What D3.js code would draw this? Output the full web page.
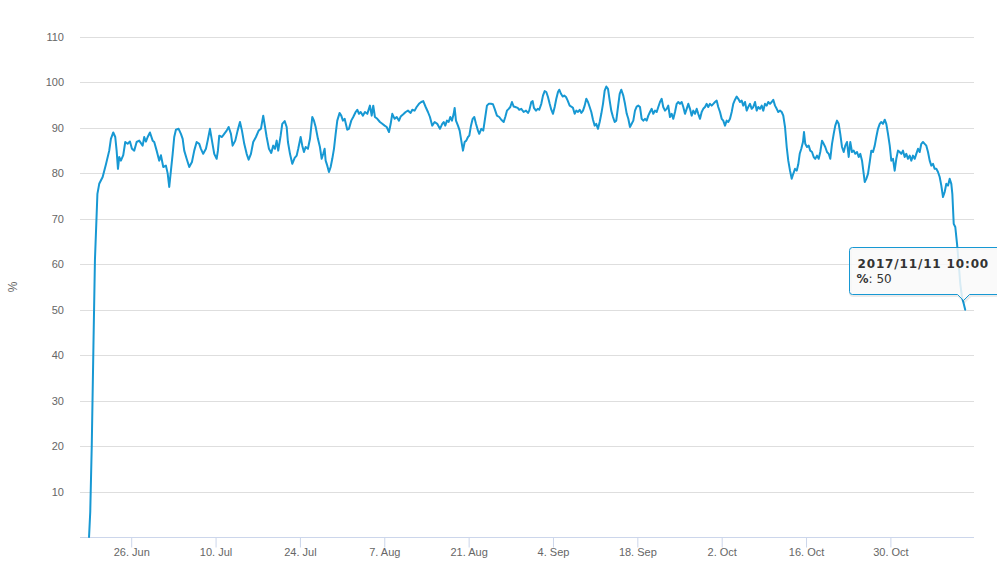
<!DOCTYPE html>
<html>
<head>
<meta charset="utf-8">
<script src="https://cdn.jsdelivr.net/npm/d3@7/dist/d3.min.js"></script>
<style>
  html, body { margin: 0; padding: 0; background: #ffffff; }
  svg { display: block; }
</style>
</head>
<body>
<svg id="chart" width="997" height="565"></svg>
<script>
// ---------------- DATA ----------------
// Series start time (UTC) and sample times as day offsets from it
const seriesStart = "2017-06-19T00:00:00Z";
const dayOffsets = [
  0.00, 0.20, 0.45, 0.73, 0.98, 1.39, 1.69, 2.26, 2.81, 3.35, 3.63, 4.02, 4.35, 4.58, 4.80, 5.01, 5.29, 5.68, 6.01, 6.41,
  6.79, 7.12, 7.50, 7.90, 8.33, 8.90, 9.16, 9.44, 9.73, 10.11, 10.56, 10.82, 11.22, 11.65, 11.93, 12.32, 12.76, 13.05, 13.31, 13.59,
  13.88, 14.14, 14.42, 14.87, 15.25, 15.54, 15.80, 16.20, 16.63, 17.08, 17.46, 17.86, 18.29, 18.57, 18.95, 19.40, 19.69, 20.07, 20.40, 20.78,
  21.18, 21.39, 21.61, 22.06, 22.44, 22.84, 23.17, 23.55, 23.83, 24.27, 24.66, 25.05, 25.38, 25.76, 26.16, 26.49, 26.87, 27.25, 27.70, 28.15,
  28.53, 28.91, 29.48, 29.86, 30.24, 30.57, 30.86, 31.14, 31.40, 31.80, 32.07, 32.47, 32.80, 33.01, 33.35, 33.73, 34.13, 34.46, 34.72, 35.12,
  35.39, 35.67, 35.95, 36.33, 36.67, 37.05, 37.33, 37.61, 37.99, 38.32, 38.61, 38.87, 39.10, 39.27, 39.54, 39.82, 40.10, 40.37, 40.65, 40.93,
  41.20, 41.59, 41.86, 42.14, 42.42, 42.86, 43.14, 43.52, 43.85, 44.25, 44.52, 44.80, 45.08, 45.46, 45.79, 46.18, 46.62, 46.91, 47.17, 47.45,
  47.84, 48.28, 48.67, 49.06, 49.40, 49.78, 50.06, 50.33, 50.72, 51.06, 51.44, 51.72, 52.15, 52.55, 52.93, 53.38, 53.65, 54.04, 54.37, 54.76,
  55.14, 55.47, 55.87, 56.25, 56.58, 56.96, 57.36, 57.79, 58.24, 58.62, 58.86, 59.12, 59.40, 59.69, 59.95, 60.23, 60.52, 60.68, 60.90, 61.23,
  61.51, 61.78, 62.06, 62.34, 62.61, 62.89, 63.11, 63.39, 63.67, 63.94, 64.22, 64.55, 64.76, 65.10, 65.43, 65.76, 66.04, 66.33, 66.71, 67.04,
  67.32, 67.70, 68.08, 68.42, 68.82, 69.08, 69.36, 69.65, 69.91, 70.19, 70.48, 70.74, 71.14, 71.40, 71.74, 72.13, 72.52, 72.85, 73.06, 73.40,
  73.63, 73.84, 74.18, 74.46, 74.72, 75.06, 75.34, 75.62, 75.89, 76.17, 76.45, 76.72, 77.00, 77.28, 77.55, 77.83, 78.04, 78.33, 78.61, 78.87,
  79.16, 79.44, 79.77, 80.03, 80.32, 80.60, 80.86, 81.15, 81.43, 81.70, 81.98, 82.26, 82.53, 82.81, 83.09, 83.36, 83.64, 83.92, 84.18, 84.47,
  84.75, 85.02, 85.30, 85.58, 85.85, 86.13, 86.41, 86.67, 86.96, 87.24, 87.50, 87.79, 88.07, 88.34, 88.67, 88.95, 89.24, 89.50, 89.78, 90.06,
  90.33, 90.61, 90.89, 91.15, 91.44, 91.72, 91.99, 92.27, 92.55, 92.82, 93.10, 93.38, 93.65, 93.93, 94.21, 94.48, 94.76, 95.04, 95.30, 95.59,
  95.87, 96.13, 96.42, 96.70, 96.97, 97.25, 97.53, 97.80, 98.08, 98.36, 98.63, 98.91, 99.19, 99.46, 99.74, 100.02, 100.29, 100.57, 100.85, 101.11,
  101.40, 101.68, 101.94, 102.23, 102.51, 102.77, 103.06, 103.34, 103.61, 103.89, 104.17, 104.43, 104.72, 105.00, 105.26, 105.55, 105.83, 106.09, 106.38, 106.66,
  106.92, 107.21, 107.49, 107.75, 108.04, 108.32, 108.58, 108.87, 109.15, 109.41, 109.70, 109.98, 110.24, 110.53, 110.81, 111.07, 111.36, 111.64, 111.90, 112.19,
  112.47, 112.73, 113.02, 113.30, 113.56, 113.85, 114.13, 114.39, 114.68, 114.96, 115.22, 115.51, 115.79, 116.05, 116.34, 116.62, 116.88, 117.17, 117.45, 117.71,
  117.95, 118.21, 118.49, 118.66, 118.87, 119.16, 119.44, 119.70, 119.99, 120.27, 120.53, 120.82, 121.10, 121.36, 121.65, 121.93, 122.19, 122.48, 122.76, 123.02,
  123.31, 123.59, 123.85, 124.14, 124.42, 124.68, 124.97, 125.25, 125.51, 125.80, 126.08, 126.34, 126.63, 126.91, 127.17, 127.46, 127.74, 128.00, 128.29, 128.57,
  128.74, 129.00, 129.28, 129.57, 129.83, 130.11, 130.40, 130.66, 130.94, 131.23, 131.49, 131.77, 132.06, 132.32, 132.60, 132.89, 133.15, 133.43, 133.71, 133.98,
  134.26, 134.54, 134.81, 135.09, 135.37, 135.64, 135.92, 136.20, 136.47, 136.75, 137.03, 137.30, 137.58, 137.86, 138.13, 138.41, 138.69, 138.96, 139.24, 139.52,
  139.79, 140.07, 140.35, 140.62, 140.90, 141.18, 141.45, 141.73, 142.01, 142.28, 142.56, 142.84, 143.11, 143.28, 143.51, 143.77, 144.06, 144.34, 144.60, 144.88,
  145.17, 145.4167
];
const percentValues = [
  0, 5.5, 20, 42, 61, 75.5, 77.7, 79.2, 82, 85, 87.6, 89, 88, 85, 81, 83.6, 82.8, 84, 86.9, 86.5,
  87, 85.4, 85, 86.9, 87.2, 86.1, 88, 87, 88, 89, 87.2, 86.9, 85, 82.8, 84, 81.4, 81.7, 80, 77, 80.6,
  84.3, 88, 89.6, 89.8, 88.7, 87.6, 85, 83.2, 81.4, 82.5, 85, 86.9, 86.5, 85.4, 84.3, 85.4, 87.2, 89.8, 87.2, 84.3,
  83.2, 85, 88.3, 88, 88.7, 89.4, 90.2, 88.7, 86.1, 87.2, 89.4, 91.3, 89.4, 86.5, 84.3, 83, 84.3, 86.9, 88, 89.4,
  89.8, 92.7, 88, 85.4, 84.5, 86.1, 85.4, 87.2, 85, 88.3, 90.9, 91.5, 90.2, 86.9, 84.3, 82.1, 83.4, 83.9, 85.4, 88,
  86.1, 84.7, 85.8, 85.4, 87.6, 92.4, 91.6, 90.2, 87.6, 85.8, 83.2, 84.3, 85.4, 82.8, 81.7, 80.3, 81.4, 83.2, 85.4, 88.7,
  91.6, 93.3, 92.7, 91.6, 92, 89.6, 89.8, 91.6, 92.4, 93.5, 94, 93.1, 93.5, 92.7, 93.5, 93.1, 94.9, 92.7, 94.9, 92.4,
  92, 91.3, 90.9, 90.5, 90.2, 89.1, 90.9, 93.1, 92, 92.4, 91.6, 92.5, 93, 93.5, 93.8, 93.3, 94, 93.8, 94.6, 95.3,
  95.7, 95.9, 94.6, 93.5, 92.4, 90.5, 91.3, 90.9, 89.8, 90.9, 91.3, 90.5, 91.6, 91.3, 92.4, 91.6, 93.1, 94.4, 91.6, 90.5,
  89.4, 87.2, 85, 86.9, 87.2, 88, 88.3, 90.5, 92, 92.4, 90.9, 89.4, 88.7, 89.8, 89.4, 92.4, 94.9, 95.3, 95.3, 95.2,
  94.2, 92.7, 92.4, 91.8, 91.3, 92.4, 93.8, 94.2, 94.6, 95.7, 94.7, 94.6, 94.4, 94, 94.2, 93.5, 93.8, 93.3, 93.8, 95.7,
  95.9, 94.4, 93.8, 94.2, 94, 95.3, 97.1, 98.1, 97.9, 96.8, 95.3, 94, 93.1, 94.6, 96.4, 97.9, 98.4, 97.5, 96.9, 97.1,
  96.8, 96, 94.9, 94.7, 94.4, 93.1, 93.8, 93.5, 94, 93.3, 93.8, 94.9, 96.4, 95.7, 94.6, 93.5, 91.8, 90.5, 90.9, 89.8,
  91.3, 93.1, 95.3, 98.2, 99.1, 98.6, 96, 93.8, 92.4, 91.3, 91.6, 94.6, 97.5, 98.4, 97.1, 95.3, 93.1, 92, 90.2, 90.9,
  91.6, 93.8, 94.7, 94.9, 94.6, 92, 91.6, 92, 91.6, 92.7, 93.5, 94.2, 93.1, 93.8, 93.5, 94.6, 95.7, 96.4, 94.6, 93.8,
  94.2, 94.9, 92.4, 93.1, 92, 93.5, 95.3, 95.7, 95.3, 95.7, 94.6, 93.1, 94.2, 95.3, 94.2, 92.7, 93.8, 93.1, 94.2, 93.1,
  92, 93.5, 94.2, 94.6, 95.3, 94.6, 95.3, 94.9, 95.3, 95.7, 96, 94.6, 93.5, 92, 91.6, 90.5, 91.6, 91.3, 92, 93.5,
  95.3, 96.2, 96.9, 96.4, 95.7, 96, 94.9, 95.7, 93.8, 94.6, 95.3, 94.2, 94.6, 95.7, 93.8, 94.6, 94.2, 94.9, 93.8, 95.3,
  94.9, 95.7, 95.3, 95.7, 96.2, 94.9, 94.2, 93.5, 93.8, 93.5, 92.7, 90.2, 85.8, 82.8, 80.6, 78.8, 79.9, 81, 80.6, 82,
  84.3, 85.4, 86.9, 89.1, 86.5, 85.8, 86.1, 85, 84.7, 83.6, 83.2, 83.9, 83.2, 84.7, 87.2, 86.5, 85.8, 84.7, 84.3, 83.2,
  86.5, 88.7, 90.5, 91.6, 90.9, 88.7, 85.8, 84.7, 86.1, 86.9, 83.6, 86.9, 84.7, 85, 84.3, 84.7, 83.6, 84.3, 82.8, 79.9,
  78.1, 78.8, 79.9, 82.5, 85, 84.7, 86.1, 88, 89.8, 90.9, 91.3, 90.9, 91.8, 90.9, 88.7, 86.1, 82.8, 83.2, 80.6, 83.2,
  85, 84.7, 84.3, 85, 83.6, 84.3, 83.2, 83.9, 82.8, 83.9, 83.2, 84.3, 85.4, 84.7, 86.5, 86.9, 86.5, 86.1, 84.7, 82.8,
  81.7, 82.1, 81, 81, 80.3, 79.2, 77.3, 74.8, 75.9, 77.7, 77.3, 78.8, 77.7, 75.5, 68.9, 68.2, 64.5, 60.1, 55.7, 52.8,
  51.3, 50
];
// Axis extent and ticks
const xDomain = ["2017-06-17T12:00:00Z", "2017-11-12T21:00:00Z"];
const yDomain = [0, 110];
const yTicks = [10, 20, 30, 40, 50, 60, 70, 80, 90, 100, 110];
const xTickDates = ["2017-06-26", "2017-07-10", "2017-07-24", "2017-08-07", "2017-08-21",
                    "2017-09-04", "2017-09-18", "2017-10-02", "2017-10-16", "2017-10-30"];
const xTickLabels = ["26. Jun", "10. Jul", "24. Jul", "7. Aug", "21. Aug",
                     "4. Sep", "18. Sep", "2. Oct", "16. Oct", "30. Oct"];
const yTitle = "%";
const seriesName = "%";

// ---------------- DRAW ----------------
const seriesColor = "#1798d3";
const margin = { left: 80, right: 23, top: 37, bottom: 28 };
const W = 997, H = 565;
const svg = d3.select("#chart");
const t0 = new Date(seriesStart).getTime();
const data = dayOffsets.map((d, i) => ({ t: new Date(t0 + d * 86400000), v: percentValues[i] }));

const x = d3.scaleUtc().domain(xDomain.map(s => new Date(s))).range([margin.left, W - margin.right]);
const y = d3.scaleLinear().domain(yDomain).range([H - margin.bottom, margin.top]);

const font = "'Liberation Sans', Arial, sans-serif";

// grid
const gridG = svg.append("g");
gridG.selectAll("line").data(yTicks).join("line")
  .attr("x1", x.range()[0]).attr("x2", x.range()[1])
  .attr("y1", d => Math.round(y(d)) + 0.5).attr("y2", d => Math.round(y(d)) + 0.5)
  .attr("stroke", "#dedede").attr("stroke-width", 1);

// y labels
const yAxis = d3.axisLeft(y).tickValues(yTicks).tickSize(0).tickPadding(0);
const yG = svg.append("g").attr("transform", `translate(${x.range()[0] - 16},0)`).call(yAxis);
yG.select(".domain").remove();
yG.selectAll("text").attr("font-family", font).attr("font-size", 11).attr("fill", "#666666").attr("dy", "0.32em");

// y title
svg.append("text")
  .attr("transform", `translate(17,${(y.range()[0] + y.range()[1]) / 2}) rotate(-90)`)
  .attr("text-anchor", "middle")
  .attr("font-family", font).attr("font-size", 12).attr("fill", "#666666")
  .text(yTitle);

// x axis
const tickDates = xTickDates.map(s => new Date(s + "T00:00:00Z"));
const xAxis = d3.axisBottom(x).tickValues(tickDates)
  .tickFormat((d, i) => xTickLabels[i]).tickSize(10).tickSizeOuter(0).tickPadding(1);
const xG = svg.append("g").attr("transform", `translate(0,${Math.round(y.range()[0]) + 0.5})`).call(xAxis);
xG.select(".domain").attr("stroke", "#ccd6eb").attr("d", `M${x.range()[0]},0H${x.range()[1]}`);
xG.selectAll(".tick line").attr("stroke", "#ccd6eb");
xG.selectAll("text").attr("font-family", font).attr("font-size", 11).attr("fill", "#666666");

// line
const line = d3.line().x(d => x(d.t)).y(d => y(d.v));
svg.append("path").datum(data)
  .attr("d", line)
  .attr("fill", "none")
  .attr("stroke", seriesColor)
  .attr("stroke-width", 2)
  .attr("stroke-linejoin", "round")
  .attr("stroke-linecap", "round");

// tooltip at last point
const last = data[data.length - 1];
const px = x(last.t), py = y(last.v);
const bx = Math.round(px - 116) + 0.5, by = Math.round(py - 63) + 0.5;
const bw = 170, bh = 47;
const tip = svg.append("g");
const ax = Math.round(px) - 1.5;
const calloutPath = `M${bx + 3},${by} H${bx + bw} V${by + bh} H${ax + 6} L${ax},${by + bh + 6} L${ax - 6},${by + bh} H${bx + 3} Q${bx},${by + bh} ${bx},${by + bh - 3} V${by + 3} Q${bx},${by} ${bx + 3},${by} Z`;
tip.append("path").attr("d", calloutPath).attr("transform", "translate(1,1)")
  .attr("fill", "none").attr("stroke", "rgba(0,0,0,0.08)").attr("stroke-width", 3);
tip.append("path").attr("d", calloutPath)
  .attr("fill", "rgba(249,249,249,0.85)").attr("stroke", seriesColor).attr("stroke-width", 1);
const fmt = d3.utcFormat("%Y/%m/%d %H:%M");
tip.append("text").attr("x", bx + 8).attr("y", by + 20)
  .attr("font-family", "'DejaVu Sans', Verdana, sans-serif").attr("font-size", 12).attr("font-weight", "bold")
  .attr("letter-spacing", "0.85px").attr("fill", "#333333")
  .text(fmt(last.t));
const t2 = tip.append("text").attr("x", bx + 7).attr("y", by + 35)
  .attr("font-family", "'DejaVu Sans', Verdana, sans-serif").attr("font-size", 12).attr("fill", "#333333");
t2.append("tspan").attr("font-weight", "bold").text(seriesName);
t2.append("tspan").text(": " + last.v);
</script>
</body>
</html>
